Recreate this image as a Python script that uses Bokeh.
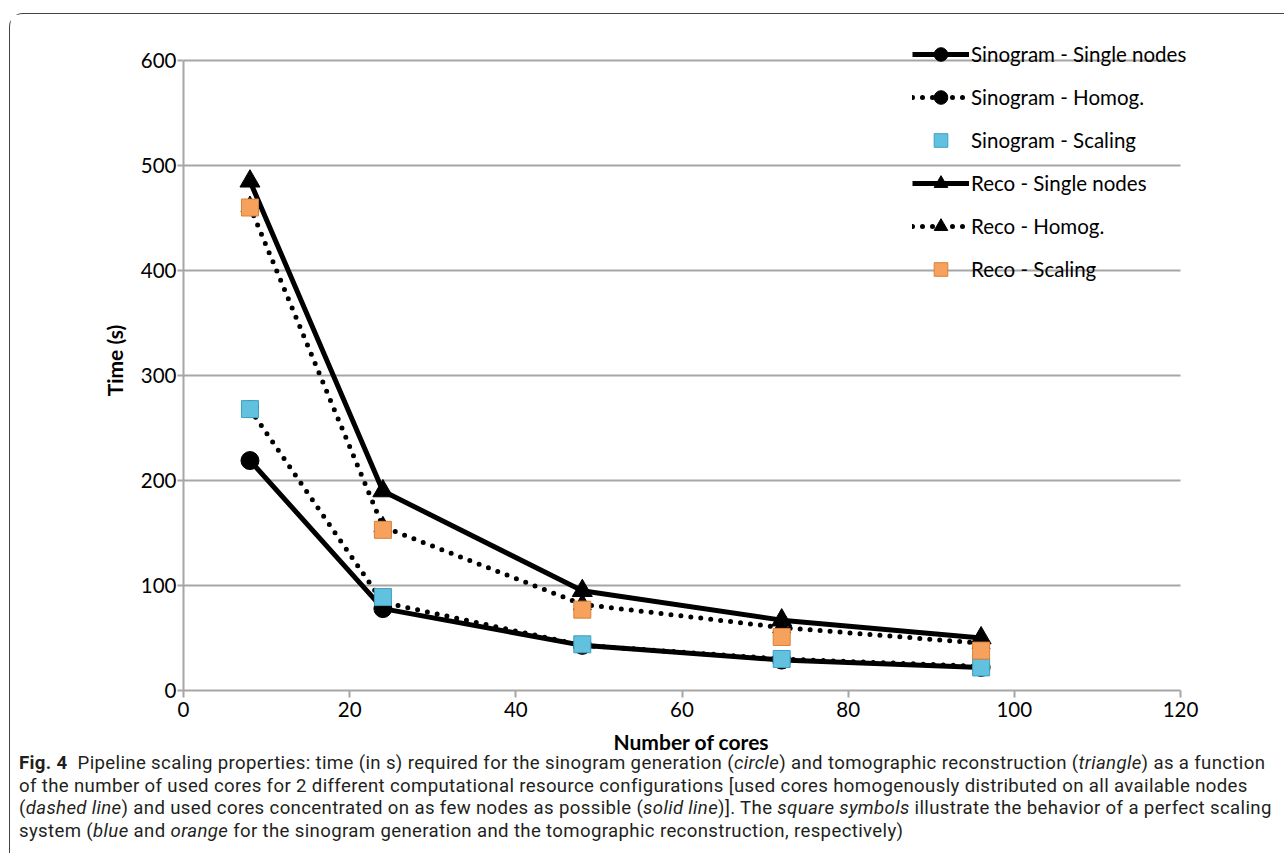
from bokeh.plotting import figure
from bokeh.models import Legend, LegendItem, Div, Range1d, FixedTicker
from bokeh.layouts import column
from bokeh.embed import file_html
from bokeh.resources import INLINE

cores = [8, 24, 48, 72, 96]
sino_single = [219, 78, 43, 29, 22]
sino_homog = [268, 84, 43, 30, 23]
sino_scaling = [268, 89, 44, 30, 22]
reco_single = [485, 190, 95, 67, 50]
reco_homog = [461, 156, 82, 60, 45]
reco_scaling = [460, 153, 77, 51, 38]
x_ticks = [0, 20, 40, 60, 80, 100, 120]
y_ticks = [0, 100, 200, 300, 400, 500, 600]

FONT = "Lato"
GRID = "#a6a6a6"
BLUE = "#62c1de"
BLUE_EDGE = "#3f9fc0"
ORANGE = "#f6a25c"
ORANGE_EDGE = "#d98139"

# the frame is a little larger than the axes so the legend (which overhangs) is not clipped
x_lo, x_hi = x_ticks[0], x_ticks[-1]
y_lo, y_hi = y_ticks[0], y_ticks[-1]
p = figure(width=1270, height=742, output_backend="svg", toolbar_location=None,
           x_range=Range1d(x_lo, x_hi * 1016 / 997), y_range=Range1d(y_lo, y_hi * 660 / 630),
           min_border_left=173, min_border_right=81, min_border_top=16, min_border_bottom=66)
p.outline_line_color = None
p.background_fill_color = "white"
p.border_fill_color = "white"
p.grid.visible = False

# horizontal grid lines, limited to the axis extent
gy = y_ticks[1:]
p.segment(x0=[x_lo] * len(gy), x1=[x_hi] * len(gy), y0=gy, y1=gy,
          line_color=GRID, line_width=2, level="underlay")

p.xaxis.ticker = FixedTicker(ticks=x_ticks)
p.yaxis.ticker = FixedTicker(ticks=y_ticks)
p.xaxis.bounds = (x_lo, x_hi)
p.yaxis.bounds = (y_lo, y_hi)
for ax in (p.xaxis, p.yaxis):
    ax.axis_line_color = GRID
    ax.axis_line_width = 2
    ax.major_tick_line_color = GRID
    ax.major_tick_line_width = 2
    ax.minor_tick_line_color = None
    ax.major_tick_in = 0
    ax.major_label_text_font = FONT
    ax.major_label_text_font_size = "20.5px"
    ax.major_label_text_color = "black"
    ax.axis_label_text_font = FONT
    ax.axis_label_text_font_size = "21px"
    ax.axis_label_text_font_style = "bold"
    ax.axis_label_text_color = "black"
p.xaxis.major_tick_out = 7
p.yaxis.major_tick_out = 6
p.xaxis.axis_label = "Number of cores"
p.yaxis.axis_label = "Time (s)"
p.xaxis.major_label_standoff = 4
p.yaxis.major_label_standoff = 1
p.xaxis.axis_label_standoff = 9
p.yaxis.axis_label_standoff = 11

LW = 5
DOT = "0 10"

l_ss = p.line(cores, sino_single, line_color="black", line_width=LW, line_join="round")
l_sh = p.line(cores, sino_homog, line_color="black", line_width=LW, line_dash=DOT, line_cap="round")
l_rs = p.line(cores, reco_single, line_color="black", line_width=LW, line_join="round")
l_rh = p.line(cores, reco_homog, line_color="black", line_width=LW, line_dash=DOT, line_cap="round")

m_sh = p.scatter(cores, sino_homog, marker="circle", size=17, color="black")
m_rh = p.scatter(cores, reco_homog, marker="triangle", size=18, color="black")
m_ss = p.scatter(cores, sino_single, marker="circle", size=18, color="black")
m_rs = p.scatter(cores, reco_single, marker="triangle", size=20, color="black")

s_s = p.scatter(cores, sino_scaling, marker="square", size=17, fill_color=BLUE,
                line_color=BLUE_EDGE, line_width=1)
s_r = p.scatter(cores, reco_scaling, marker="square", size=17, fill_color=ORANGE,
                line_color=ORANGE_EDGE, line_width=1)

legend = Legend(items=[
    LegendItem(label="Sinogram - Single nodes", renderers=[l_ss, m_ss]),
    LegendItem(label="Sinogram - Homog.", renderers=[l_sh, m_sh]),
    LegendItem(label="Sinogram - Scaling", renderers=[s_s]),
    LegendItem(label="Reco - Single nodes", renderers=[l_rs, m_rs]),
    LegendItem(label="Reco - Homog.", renderers=[l_rh, m_rh]),
    LegendItem(label="Reco - Scaling", renderers=[s_r]),
], location=(729, 404))
legend.border_line_color = None
legend.background_fill_alpha = 0
legend.padding = 0
legend.margin = 0
legend.glyph_width = 57
legend.glyph_height = 34
legend.label_height = 30
legend.spacing = 9
legend.label_standoff = 2
legend.label_text_font = FONT
legend.label_text_font_size = "20.5px"
legend.label_text_color = "black"
p.add_layout(legend)

caption_html = (
    "<b style='font-weight:700'>Fig.&nbsp;4</b>&nbsp; Pipeline scaling properties: time (in s) required for the sinogram "
    "generation (<i>circle</i>) and tomographic reconstruction (<i>triangle</i>) as a function<br>"
    "of the number of used cores for 2 different computational resource configurations [used cores homogenously "
    "distributed on all available nodes<br>"
    "(<i>dashed line</i>) and used cores concentrated on as few nodes as possible (<i>solid line</i>)]. The "
    "<i>square symbols</i> illustrate the behavior of a perfect scaling<br>"
    "system (<i>blue</i> and <i>orange</i> for the sinogram generation and the tomographic reconstruction, respectively)"
)
caption = Div(text=caption_html, width=1266, height=96,
              styles={"font-family": "Roboto", "font-size": "18.6px", "line-height": "22.5px",
                      "color": "#231f20", "padding-left": "4px", "margin-top": "-4px",
                      "white-space": "nowrap", "letter-spacing": "0.36px"})

layout = column(p, caption,
                styles={"border-top": "1.5px solid #444", "border-left": "1.5px solid #444",
                        "border-top-left-radius": "14px", "margin-top": "13px", "margin-left": "9px"})

open("out.html", "w").write(file_html(layout, INLINE))
